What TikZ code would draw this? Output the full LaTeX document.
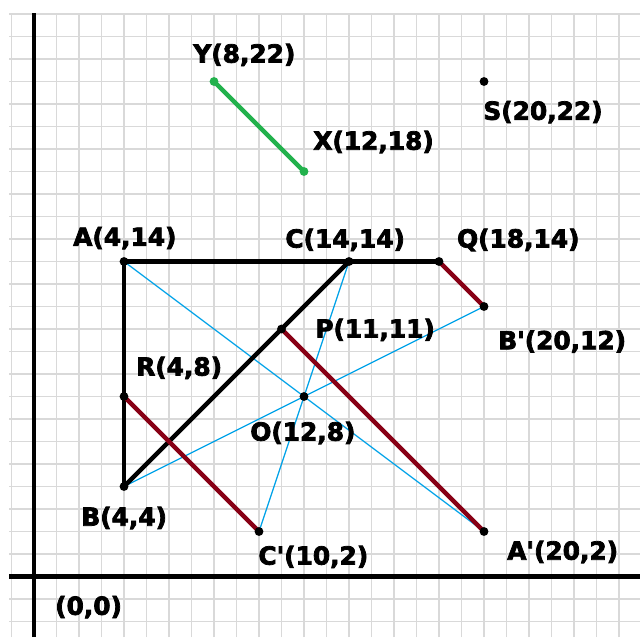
\documentclass[tikz,border=0pt]{standalone}
\usepackage{fontspec}
\setmainfont{DejaVu Sans}
\newfontfamily\heavyfont{DejaVu Sans Bold}[FakeBold=3]
\usepackage{tikz}
\usetikzlibrary{positioning}

\definecolor{darkred}{RGB}{136,0,21}
\definecolor{paintgreen}{RGB}{34,177,76}
\definecolor{paintblue}{RGB}{0,162,232}

\begin{document}
\begin{tikzpicture}[
                x=0.5cm, y=0.5cm,
                font=\fontsize{15.7}{18}\selectfont\heavyfont,
                gridline/.style={draw=black!15, line width=0.9pt},
                axis/.style={draw=black, line width=2.6pt},
                dot/.style={circle, fill=black, inner sep=0pt, minimum size=5.6pt},
                gdot/.style={dot, fill=paintgreen},
                lbl/.style={anchor=west, inner sep=0pt},
                side/.style={draw=black, line width=2.8pt},
                image/.style={draw=darkred, line width=2.8pt},
                ray/.style={draw=paintblue, line width=0.8pt},
                seg/.style={draw=paintgreen, line width=2.8pt}
            ]
            \useasboundingbox (-1.511,-2.689) rectangle (26.933,25.622);

            % Grid
            \foreach \gx in {-1,...,26}
                \draw[gridline] (\gx,-2.689) -- (\gx,25);
            \foreach \gy in {-2,...,25}
                \draw[gridline] (-1.1,\gy) -- (26.933,\gy);

            % Axes
            \coordinate (xstart) at (-1.1,0);
            \coordinate (xend) at (26.933,0);
            \coordinate (ystart) at (0,-2.689);
            \coordinate (yend) at (0,25.05);
            \draw[axis] (xstart) -- (xend);
            \draw[axis] (ystart) -- (yend);

            % Lines
            \coordinate (pA) at (4,14);
            \coordinate (pB) at (4,4);
            \coordinate (pC) at (14,14);
            \coordinate (pQ) at (18,14);
            \coordinate (pBp) at (20,12);
            \coordinate (pP) at (11,11);
            \coordinate (pR) at (4,8);
            \coordinate (pO) at (12,8);
            \coordinate (pCp) at (10,2);
            \coordinate (pAp) at (20,2);
            \coordinate (pY) at (8,22);
            \coordinate (pX) at (12,18);

            \draw[ray] (pA) -- (pAp);
            \draw[ray] (pB) -- (pBp);
            \draw[ray] (pC) -- (pCp);

            \draw[side] (pA) -- (pB);
            \draw[side] (pA) -- (pC) -- (pQ);
            \draw[side] (pB) -- (pC);

            \draw[image] (pQ) -- (pBp);
            \draw[image] (pR) -- (pCp);
            \draw[image] (pP) -- (pAp);

            \draw[seg] (pY) -- (pX);

            % Points
            \node[dot] (A) at (pA) {};
            \node[dot] (B) at (pB) {};
            \node[dot] (C) at (pC) {};
            \node[dot] (Q) at (pQ) {};
            \node[dot] (Bp) at (pBp) {};
            \node[dot] (P) at (pP) {};
            \node[dot] (R) at (pR) {};
            \node[dot] (O) at (pO) {};
            \node[dot] (Cp) at (pCp) {};
            \node[dot] (Ap) at (pAp) {};
            \node[dot] (S) at (20,22) {};
            \node[gdot] (Y) at (pY) {};
            \node[gdot] (X) at (pX) {};

            % Labels
            \node[lbl] (labY) at (7.07,23.18) {Y(8,22)};
            \node[lbl] (labX) at (12.4,19.31) {X(12,18)};
            \node[lbl] (labS) at (19.96,20.64) {S(20,22)};
            \node[lbl] (labA) at (1.73,15.04) {A(4,14)};
            \node[lbl] (labC) at (11.16,14.96) {C(14,14)};
            \node[lbl] (labQ) at (18.79,14.96) {Q(18,14)};
            \node[lbl] (labBp) at (20.62,10.44) {B\textquotesingle(20,12)};
            \node[lbl] (labP) at (12.49,10.96) {P(11,11)};
            \node[lbl] (labR) at (4.53,9.27) {R(4,8)};
            \node[lbl] (labO) at (9.6,6.38) {O(12,8)};
            \node[lbl] (labB) at (2.09,2.6) {B(4,4)};
            \node[lbl] (labCp) at (9.96,0.87) {C\textquotesingle(10,2)};
            \node[lbl] (labAp) at (21.02,1.09) {A\textquotesingle(20,2)};
            \node[lbl] (labOrig) at (0.93,-1.36) {(0,0)};

        \end{tikzpicture}
\end{document}
